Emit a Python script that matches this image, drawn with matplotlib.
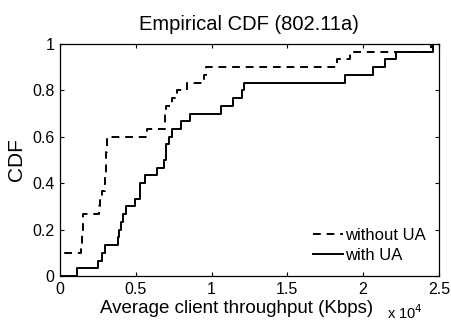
import numpy as np
import matplotlib
matplotlib.use('Agg')
import matplotlib.pyplot as plt

plt.rcParams['font.family'] = ['Liberation Sans', 'DejaVu Sans']

# throughput samples in units of 1e4 Kbps
without_ua = [0.0, 0.0, 0.0,
              0.14, 0.145, 0.148, 0.15, 0.154,
              0.26, 0.264, 0.28, 0.297,
              0.300, 0.302, 0.304, 0.306, 0.308, 0.31,
              0.572, 0.69, 0.695, 0.70,
              0.737, 0.77, 0.836, 0.95, 0.962,
              1.825, 1.913, 2.45]
with_ua = [0.114, 0.253, 0.28, 0.30, 0.385, 0.39, 0.40, 0.418, 0.435,
           0.495, 0.528, 0.53, 0.56, 0.64, 0.685, 0.697, 0.70, 0.72,
           0.737, 0.80, 0.858, 1.062, 1.139, 1.198, 1.216, 1.88, 2.067,
           2.148, 2.22, 2.463]

xticks = [0, 0.5, 1, 1.5, 2, 2.5]
xticklabels = ['0', '0.5', '1', '1.5', '2', '2.5']
yticks = [0, 0.2, 0.4, 0.6, 0.8, 1]
yticklabels = ['0', '0.2', '0.4', '0.6', '0.8', '1']


def ecdf(vals):
    x = np.sort(np.array(vals))
    y = np.arange(1, len(x) + 1) / len(x)
    return np.concatenate([[0.0], x]), np.concatenate([[0.0], y])


fig = plt.figure(figsize=(4.51, 3.23), dpi=100)
ax = fig.add_axes([0.133, 0.1455, 0.840, 0.7185])

x1, y1 = ecdf(without_ua)
x2, y2 = ecdf(with_ua)
ax.step(x1, y1, where='post', color='black', lw=1.4, ls=(0, (4, 3)), label='without UA')
ax.step(x2, y2, where='post', color='black', lw=1.4, label='with UA')

ax.set_xlim(0, 2.5)
ax.set_ylim(0, 1)
ax.set_xticks(xticks)
ax.set_xticklabels(xticklabels)
ax.set_yticks(yticks)
ax.set_yticklabels(yticklabels)
ax.tick_params(direction='in', top=True, right=True, labelsize=11.5, length=3, pad=4)
for s in ax.spines.values():
    s.set_linewidth(0.9)

ax.set_title('Empirical CDF (802.11a)', fontsize=14.5, pad=10)
ax.set_xlabel('Average client throughput (Kbps)', fontsize=13.5)
ax.xaxis.set_label_coords(0.467, -0.105)
ax.set_ylabel('CDF', fontsize=15, labelpad=4)
fig.text(0.858, 0.003, r'x 10$^4$', fontsize=10.5, ha='left', va='bottom')

ax.legend(loc='lower right', frameon=False, fontsize=12, handlelength=1.8,
          handletextpad=0.1, labelspacing=0.3, borderaxespad=0.4)

fig.savefig('out.png', dpi=100)
